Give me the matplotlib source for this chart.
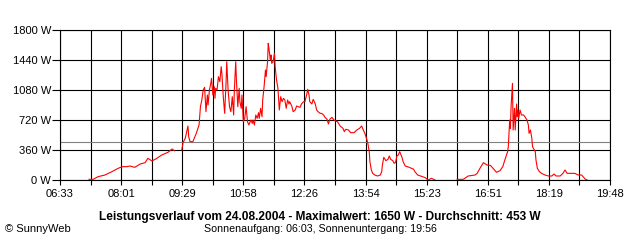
import numpy as np
import matplotlib.pyplot as plt

plt.rcParams['font.family'] = ['Liberation Sans', 'DejaVu Sans']

# time of day in minutes since midnight, AC power in W (nan = no data)
minutes = [435, 441, 448, 458, 468, 477, 483, 490, 494, 501, 509, 516, 520, 526, 533, 540,
           549, 555, 558, 563, 569, 571, 574, 578, 579, 581, 585, 588, 590, 594, 596, 598,
           600, 602, 604, 606, 607, 609, 611, 612, 614, 616, 617, 618, 620, 622, 624, 626,
           627, 629, 631, 633, 634, 636, 638, 640, 642, 644, 645, 647, 648, 650, 652, 653,
           655, 656, 658, 660, 662, 664, 666, 669, 671, 672, 674, 676, 678, 680, 681, 683,
           685, 686, 688, 690, 691, 693, 694, 695, 697, 698, 699, 701, 703, 704, 706, 708,
           709, 710, 712, 714, 716, 718, 720, 722, 724, 725, 728, 730, 733, 735, 737, 740,
           742, 745, 747, 750, 751, 753, 754, 757, 759, 762, 764, 766, 769, 771, 774, 776,
           779, 781, 783, 786, 789, 794, 798, 802, 804, 806, 810, 813, 818, 822, 826, 829,
           831, 834, 836, 838, 840, 841, 843, 845, 848, 852, 856, 858, 859, 861, 864, 867,
           869, 871, 874, 876, 878, 880, 882, 884, 887, 889, 892, 895, 898, 901, 904, 906,
           910, 913, 917, 921, 925, 930, 935, 950, 967, 976, 983, 993, 996, 1000, 1005, 1010,
           1015, 1019, 1024, 1029, 1033, 1036, 1040, 1041, 1042, 1043, 1044, 1045, 1047, 1048, 1050, 1051,
           1053, 1054, 1055, 1056, 1058, 1060, 1063, 1065, 1068, 1070, 1071, 1073, 1075, 1076, 1080, 1081,
           1083, 1086, 1089, 1094, 1099, 1104, 1107, 1110, 1116, 1120, 1123, 1126, 1133, 1137, 1142, 1147,
           1149, 1152, 1155]
watts = [8, 8, 40, 60, 100, 140, 160, 160, 168, 152, 192, 208, 260, 228, 260, 300,
         332, 372, 352, np.nan, 360, 452, 500, 648, 520, 460, 460, 520, 560, 660, 880, 960,
         1080, 1112, 820, 1020, 900, 1080, 1160, 1220, 1020, 1120, 980, 1100, 1080, 1240, 1180, 1360,
         1280, 1000, 800, 1160, 1420, 1080, 880, 820, 1000, 780, 1080, 1420, 1200, 880, 1100, 940,
         860, 1020, 700, 740, 880, 700, 660, 720, 680, 720, 660, 780, 740, 808, 740, 860,
         760, 960, 1120, 1320, 1240, 1420, 1640, 1580, 1440, 1500, 1400, 1420, 1520, 1360, 1200, 1100,
         960, 840, 1000, 940, 980, 960, 860, 960, 912, 940, 888, 820, 840, 888, 880, 872,
         912, 940, 940, 1040, 1088, 1020, 940, 912, 968, 912, 840, 820, 800, 800, 780, 752,
         728, 672, 728, 752, 720, 700, 648, 620, 580, 608, 600, 568, 568, 600, 620, 648,
         608, 552, 500, 440, 340, 220, 120, 80, 60, 48, 60, 100, 180, 272, 232, 248,
         288, 248, 232, 200, 210, 288, 300, 340, 280, 220, 168, 160, 152, 140, 130, 100,
         60, 52, 40, 28, 0, 20, 0, np.nan, 8, 8, 48, 60, 80, 140, 208, 180,
         176, 140, 92, 112, 160, 240, 340, 400, 560, 720, 620, 880, 1160, 600, 860, 600,
         912, 760, 840, 740, 840, 780, 780, 760, 720, 660, 560, 600, 500, 400, 340, 240,
         140, 100, 80, 60, 48, 48, 72, 48, 48, 80, 120, 80, 80, 80, 60, 60,
         40, 12, 0]

avg_w = 453
x_labels = ['06:33', '08:01', '09:29', '10:58', '12:26', '13:54', '15:23', '16:51', '18:19', '19:48']
y_ticks = [0, 360, 720, 1080, 1440, 1800]
title = 'Leistungsverlauf vom 24.08.2004 - Maximalwert: 1650 W - Durchschnitt: 453 W'
subtitle = 'Sonnenaufgang: 06:03, Sonnenuntergang: 19:56'

fig = plt.figure(figsize=(6.4, 2.4), dpi=100)
ax = fig.add_axes([60 / 640, 60 / 240, 550 / 640, 150 / 240])

ax.plot(minutes, watts, color='#ff0000', lw=0.8, zorder=3)
ax.axhline(avg_w, color='#808080', lw=0.8, zorder=2)

t0, t1 = 393, 1188
ax.set_xlim(t0, t1)
ax.set_ylim(0, 1800)
ax.set_xticks(np.linspace(t0, t1, len(x_labels)), x_labels)
ax.set_xticks(np.linspace(t0, t1, 2 * len(x_labels) - 1), minor=True)
ax.set_yticks(y_ticks, [f'{v} W' for v in y_ticks])
ax.grid(True, which='both', color='black', lw=0.8, zorder=1)

ax.tick_params(axis='x', which='both', direction='out', length=3.6, width=0.8, pad=3, labelsize=8)
ax.tick_params(axis='y', which='both', direction='out', length=5.5, width=0.8, pad=1, labelsize=8)
for s in ax.spines.values():
    s.set_linewidth(0.8)

fig.text(0.5, 1 - 216.7 / 240, title, ha='center', va='center', fontsize=8.6, fontweight='bold')
fig.text(0.5, 1 - 229 / 240, subtitle, ha='center', va='center', fontsize=7.7)
fig.text(5 / 640, 1 - 229 / 240, '© SunnyWeb', ha='left', va='center', fontsize=8)

fig.savefig('out.png', dpi=100)
